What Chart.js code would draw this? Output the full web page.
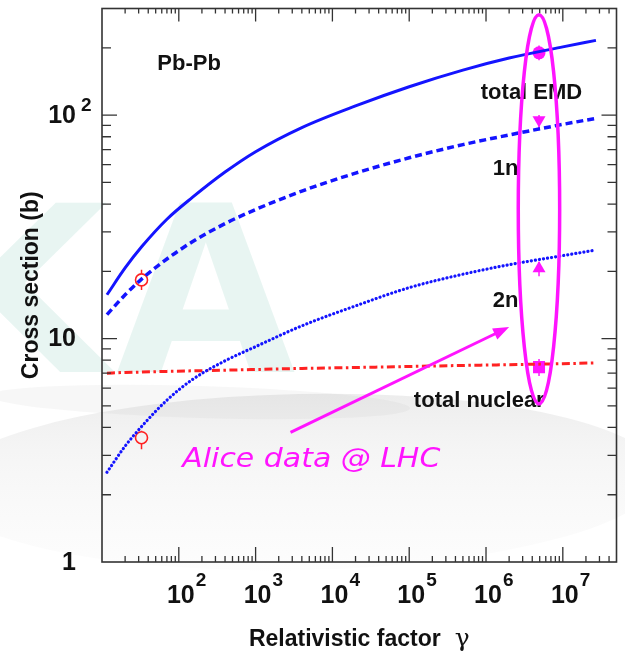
<!DOCTYPE html>
<html>
<head>
<meta charset="utf-8">
<style>
  html, body { margin: 0; padding: 0; background: #fff; }
</style>
<script src="https://cdn.jsdelivr.net/npm/chart.js@4.4.1/dist/chart.umd.min.js"></script>
</head>
<body>
<canvas id="myChart" width="625" height="664"></canvas>
<script>
// model curves on a common gamma grid
const gammaGrid = [11.6, 20, 33, 70, 150, 400, 1e3, 4e3, 2e4, 1e5, 5e5, 2e6, 1e7, 2.7e7];
const emdTotal  = [15.7, 20.7, 25.8, 34.2, 42.8, 55.6, 68.6, 88.0, 110, 134, 159, 180, 202, 216];
const emd1n     = [12.8, 15.7, 18.5, 22.7, 27.1, 32.7, 37.8, 45.7, 55.0, 64.4, 73.8, 81.5, 90.9, 96.7];
const emd2n     = [2.52, 3.3, 4.05, 5.3, 6.55, 7.95, 9.2, 11.4, 14.0, 16.9, 19.4, 21.4, 23.5, 24.9];
const nuclear   = [7.0, 7.05, 7.08, 7.13, 7.17, 7.22, 7.27, 7.35, 7.42, 7.5, 7.58, 7.64, 7.72, 7.78];

// older measurements (open red circles)
const oldGamma = [32.7, 32.7];
const oldSigma = [18.3, 3.6];
const oldLo    = [16.5, 3.2];
const oldHi    = [20.3, 3.87];

// ALICE points (total EMD, 1n, 2n, total nuclear)
const aliceGamma = [4.9e6, 4.9e6, 4.9e6, 4.9e6];
const aliceSigma = [190, 95, 20.6, 7.45];
const aliceLo    = [176, 86, 19.0, 6.8];
const aliceHi    = [205, 100, 22.0, 8.1];

// tick labels (powers of ten)
const xTickExp = [2, 3, 4, 5, 6, 7];
const yTickExp = [0, 1, 2];

// text notes, anchored in data space
const notes = [
  {text: 'Pb-Pb', g: 52.6, s: 160},
  {text: 'total EMD', g: 8.55e5, s: 118.6},
  {text: '1n', g: 1.22e6, s: 53.9},
  {text: '2n', g: 1.22e6, s: 13.8},
  {text: 'total nuclear', g: 1.15e5, s: 4.94}
];

const BLUE = '#1414ff', RED = '#ff2222', MAG = '#ff14ff';
const FONT = '"Liberation Sans", Arial, sans-serif';

function logTicks(min, max) {
  const out = [];
  for (let e = Math.floor(Math.log10(min)); e <= Math.ceil(Math.log10(max)); e++) {
    for (let m = 1; m <= 9; m++) {
      const v = m * Math.pow(10, e);
      if (v >= min * 0.999 && v <= max * 1.001) out.push({value: v, major: m === 1});
    }
  }
  return out;
}

const curve = (ys) => gammaGrid.map((g, i) => ({x: g, y: ys[i]}));

const decor = {
  id: 'decor',
  beforeDraw(chart) {
    const c = chart.ctx;
    c.save();
    c.fillStyle = '#fff';
    c.fillRect(0, 0, chart.width, chart.height);
    // faint watermark of the slide
    let g = c.createLinearGradient(0, 395, 0, 580);
    g.addColorStop(0, 'rgba(195,195,195,0.3)');
    g.addColorStop(0.3, 'rgba(215,215,215,0.25)');
    g.addColorStop(1, 'rgba(240,240,240,0.12)');
    c.fillStyle = g;
    c.beginPath();
    c.ellipse(300, 482, 360, 88, -0.02, 0, Math.PI * 2);
    c.fill();
    c.fillStyle = 'rgba(170,170,170,0.09)';
    c.beginPath();
    c.ellipse(200, 402, 210, 16, 0.03, 0, Math.PI * 2);
    c.fill();
    c.font = 'bold 232px "DejaVu Sans"';
    c.fillStyle = 'rgba(165,215,205,0.26)';
    c.fillText('A', 116, 372);
    c.fillText('K', -72, 372);
    c.restore();
  },
  beforeDatasetsDraw(chart) {
    const c = chart.ctx, xs = chart.scales.x, ys = chart.scales.y;
    c.save();
    c.lineWidth = 1.5;
    c.strokeStyle = RED;
    c.beginPath();
    oldGamma.forEach((g, i) => {
      const px = xs.getPixelForValue(g), py = ys.getPixelForValue(oldSigma[i]);
      c.moveTo(px, ys.getPixelForValue(oldHi[i])); c.lineTo(px, py - 6);
      c.moveTo(px, py + 6); c.lineTo(px, ys.getPixelForValue(oldLo[i]));
    });
    c.stroke();
    c.strokeStyle = MAG;
    c.beginPath();
    aliceGamma.forEach((g, i) => {
      const px = xs.getPixelForValue(g);
      c.moveTo(px, ys.getPixelForValue(aliceHi[i]));
      c.lineTo(px, ys.getPixelForValue(aliceLo[i]));
    });
    c.stroke();
    c.restore();
  },
  afterDraw(chart) {
    const c = chart.ctx, a = chart.chartArea, xs = chart.scales.x, ys = chart.scales.y;
    c.save();
    // frame + inward ticks on all four sides
    c.strokeStyle = '#333';
    c.lineWidth = 1.6;
    c.strokeRect(a.left, a.top, a.right - a.left, a.bottom - a.top);
    c.lineWidth = 1.3;
    c.beginPath();
    xs.ticks.forEach(t => {
      const p = xs.getPixelForValue(t.value);
      if (p <= a.left + 1 || p >= a.right - 1) return;
      c.moveTo(p, a.bottom); c.lineTo(p, a.bottom - (t.major ? 15 : 6));
      c.moveTo(p, a.top); c.lineTo(p, a.top + (t.major ? 13 : 5));
    });
    ys.ticks.forEach(t => {
      const p = ys.getPixelForValue(t.value);
      if (p <= a.top + 1 || p >= a.bottom - 1) return;
      const l = t.major ? 15 : 9;
      c.moveTo(a.left, p); c.lineTo(a.left + l, p);
      c.moveTo(a.right, p); c.lineTo(a.right - l, p);
    });
    c.stroke();

    // tick labels
    c.fillStyle = '#111';
    xTickExp.forEach(e => {
      const p = xs.getPixelForValue(Math.pow(10, e));
      c.font = 'bold 25px ' + FONT;
      c.textAlign = 'center';
      c.textBaseline = 'alphabetic';
      c.fillText('10', p + 2, a.bottom + 41);
      c.font = 'bold 19px ' + FONT;
      c.textAlign = 'left';
      c.fillText(String(e), p + 17, a.bottom + 24);
    });
    yTickExp.forEach(e => {
      const p = ys.getPixelForValue(Math.pow(10, e));
      c.font = 'bold 25px ' + FONT;
      c.textAlign = 'right';
      c.textBaseline = 'middle';
      c.fillText(e === 0 ? '1' : '10', a.left - 26, p + 1);
      if (e > 1) {
        c.font = 'bold 19px ' + FONT;
        c.textAlign = 'left';
        c.fillText(String(e), a.left - 21, p - 9);
      }
    });

    // axis titles
    c.textBaseline = 'alphabetic';
    c.font = 'bold 23px ' + FONT;
    const t1 = 'Relativistic factor';
    const w1 = c.measureText(t1).width;
    c.font = '25px "DejaVu Serif"';
    const wg = c.measureText('γ').width;
    const x0 = (a.left + a.right) / 2 - (w1 + 14 + wg) / 2;
    c.font = 'bold 23px ' + FONT;
    c.textAlign = 'left';
    c.fillText(t1, x0, 646);
    c.font = '25px "DejaVu Serif"';
    c.fillText('γ', x0 + w1 + 14, 646);
    c.save();
    c.translate(38, (a.top + a.bottom) / 2);
    c.rotate(-Math.PI / 2);
    c.textAlign = 'center';
    c.font = 'bold 23px ' + FONT;
    c.fillText('Cross section (b)', 0, 0);
    c.restore();

    // notes
    c.font = 'bold 22px ' + FONT;
    c.textAlign = 'left';
    notes.forEach(n => {
      c.fillText(n.text, xs.getPixelForValue(n.g), ys.getPixelForValue(n.s));
    });

    // ALICE ellipse
    const ex1 = xs.getPixelForValue(2.63e6), ex2 = xs.getPixelForValue(9.1e6);
    const ey1 = ys.getPixelForValue(281), ey2 = ys.getPixelForValue(5.1);
    c.strokeStyle = MAG;
    c.lineWidth = 3.5;
    c.beginPath();
    c.ellipse((ex1 + ex2) / 2, (ey1 + ey2) / 2, (ex2 - ex1) / 2, (ey2 - ey1) / 2, 0, 0, Math.PI * 2);
    c.stroke();

    // arrow
    const ax1 = xs.getPixelForValue(2850), ay1 = ys.getPixelForValue(3.8);
    const ax2 = xs.getPixelForValue(2.0e6), ay2 = ys.getPixelForValue(11.26);
    const ang = Math.atan2(ay2 - ay1, ax2 - ax1);
    c.lineWidth = 3;
    c.beginPath();
    c.moveTo(ax1, ay1);
    c.lineTo(ax2 - 12 * Math.cos(ang), ay2 - 12 * Math.sin(ang));
    c.stroke();
    c.fillStyle = MAG;
    c.beginPath();
    c.moveTo(ax2, ay2);
    c.lineTo(ax2 - 16 * Math.cos(ang) + 6 * Math.sin(ang), ay2 - 16 * Math.sin(ang) - 6 * Math.cos(ang));
    c.lineTo(ax2 - 16 * Math.cos(ang) - 6 * Math.sin(ang), ay2 - 16 * Math.sin(ang) + 6 * Math.cos(ang));
    c.closePath();
    c.fill();

    // Alice label
    c.font = 'oblique 27px "DejaVu Sans"';
    const at = 'Alice data @ LHC';
    const aw = c.measureText(at).width;
    const lx = xs.getPixelForValue(111), ly = ys.getPixelForValue(2.67);
    c.save();
    c.translate(lx, ly);
    c.scale(258 / aw, 1);
    c.fillText(at, 0, 0);
    c.restore();
    c.restore();
  }
};

const myChart = new Chart(document.getElementById('myChart'), {
  type: 'line',
  data: {
    datasets: [
      {label: 'total EMD', data: curve(emdTotal), borderColor: BLUE, borderWidth: 3,
       pointRadius: 0, cubicInterpolationMode: 'monotone'},
      {label: '1n', data: curve(emd1n), borderColor: BLUE, borderWidth: 3.5, borderDash: [7, 4],
       pointRadius: 0, cubicInterpolationMode: 'monotone'},
      {label: '2n', data: curve(emd2n), borderColor: BLUE, borderWidth: 3.2, borderDash: [0.1, 4],
       borderCapStyle: 'round', pointRadius: 0, cubicInterpolationMode: 'monotone'},
      {label: 'total nuclear', data: curve(nuclear), borderColor: RED, borderWidth: 3,
       borderDash: [8, 3.5, 2.5, 3.5], pointRadius: 0, cubicInterpolationMode: 'monotone'},
      {label: 'old data', data: oldGamma.map((g, i) => ({x: g, y: oldSigma[i]})), showLine: false,
       pointStyle: 'circle', pointRadius: 6, borderColor: RED, borderWidth: 1.6,
       backgroundColor: 'rgba(255,255,255,0)'},
      {label: 'ALICE', data: aliceGamma.map((g, i) => ({x: g, y: aliceSigma[i]})), showLine: false,
       pointStyle: ['circle', 'triangle', 'triangle', 'rect'], pointRotation: [0, 180, 0, 0],
       pointRadius: [6.5, 7.5, 7.5, 8.5], borderWidth: 0, borderColor: MAG, backgroundColor: MAG}
    ]
  },
  options: {
    responsive: false,
    animation: false,
    layout: {padding: {top: 6, right: 8, left: 0, bottom: 0}},
    plugins: {legend: {display: false}, tooltip: {enabled: false}},
    scales: {
      x: {
        type: 'logarithmic', min: 10, max: 5e7,
        grid: {display: false}, border: {display: false}, ticks: {display: false},
        afterBuildTicks: (s) => { s.ticks = logTicks(s.min, s.max); },
        afterFit: (s) => { s.height = 102; }
      },
      y: {
        type: 'logarithmic', min: 1, max: 300,
        grid: {display: false}, border: {display: false}, ticks: {display: false},
        afterBuildTicks: (s) => { s.ticks = logTicks(s.min, s.max); },
        afterFit: (s) => { s.width = 102; }
      }
    }
  },
  plugins: [decor]
});
</script>
</body>
</html>
